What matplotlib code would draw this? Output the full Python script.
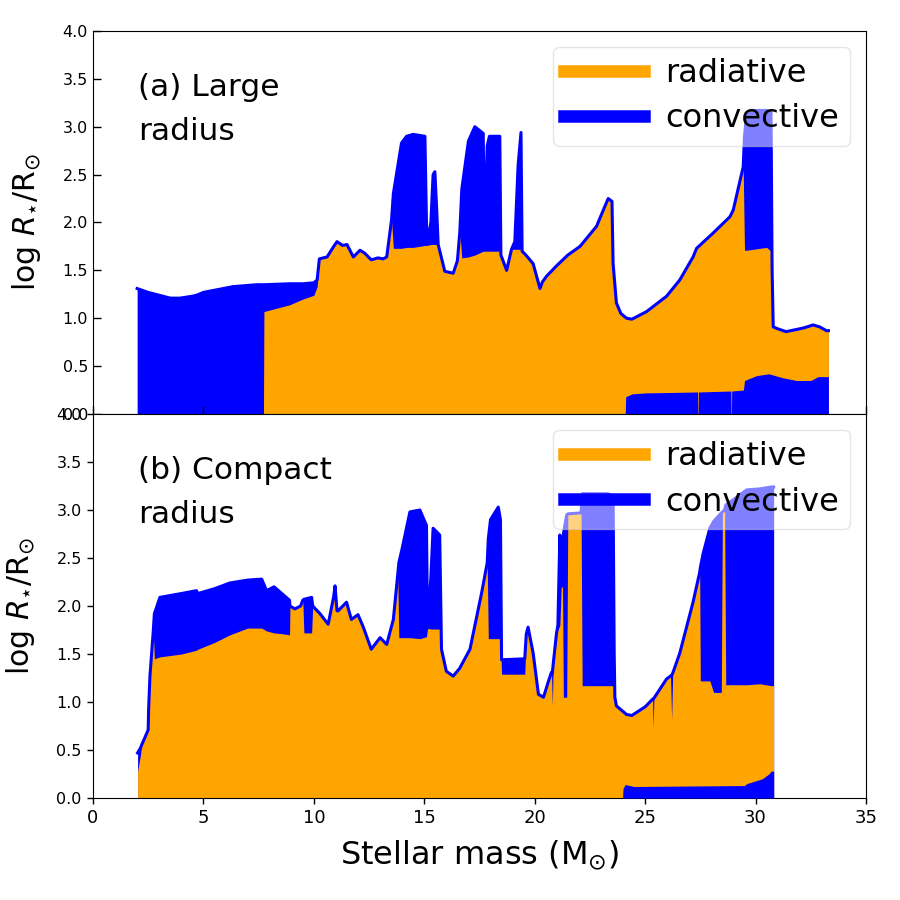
import matplotlib
matplotlib.use("Agg")
import matplotlib.pyplot as plt
from matplotlib.lines import Line2D

plt.rcParams['font.family'] = ['DejaVu Sans']
plt.rcParams['mathtext.fontset'] = 'dejavusans'

BLUE = '#0000FF'
ORANGE = '#FFA500'

# ---------------- panel (a): large radius ----------------
mass_a = [2.00, 2.5, 3.0, 3.5, 3.94, 4.5, 4.69, 5.0, 6.34, 7.41, 7.72, 7.74, 8.9, 9.5, 10.0,
          10.15, 10.25, 10.6, 10.9, 11.05, 11.3, 11.5, 11.79, 12.09, 12.3, 12.6, 12.9, 13.14, 13.3,
          13.52, 13.6, 13.97, 14.2, 14.5, 15.03, 15.1, 15.12, 15.3, 15.4, 15.48, 15.55, 15.63,
          15.93, 16.31, 16.5, 16.61, 16.7, 17.0, 17.29, 17.67, 17.72, 17.85, 17.95, 18.42, 18.47,
          18.73, 18.95, 19.1, 19.25, 19.38, 19.43, 19.6, 19.93, 20.24, 20.35, 20.54, 21.0, 21.5,
          22.05, 22.8, 23.18, 23.33, 23.5, 23.55, 23.7, 23.9, 24.16, 24.4, 25.07, 25.97, 26.57,
          27.17, 27.33, 28.08, 28.84, 28.99, 29.29, 29.44, 29.5, 29.6, 29.9, 30.5, 30.70, 30.75,
          30.8, 31.0, 31.38, 31.8, 32.2, 32.6, 32.9, 33.21, 33.3]
log_r_a = [1.31, 1.27, 1.24, 1.21, 1.21, 1.23, 1.24, 1.27, 1.33, 1.35, 1.35, 1.35, 1.36, 1.36, 1.37,
           1.40, 1.62, 1.64, 1.75, 1.80, 1.76, 1.77, 1.64, 1.71, 1.68, 1.61, 1.63, 1.62, 1.64,
           2.03, 2.30, 2.83, 2.90, 2.92, 2.90, 2.00, 1.78, 2.00, 2.50, 2.53, 2.20, 1.77,
           1.49, 1.47, 1.60, 1.90, 2.35, 2.85, 3.00, 2.93, 1.85, 2.80, 2.90, 2.90, 1.66,
           1.50, 1.72, 1.80, 2.60, 2.94, 1.70, 1.66, 1.57, 1.31, 1.38, 1.44, 1.55, 1.66,
           1.75, 1.96, 2.17, 2.25, 2.22, 1.57, 1.16, 1.05, 1.00, 0.99, 1.07, 1.23, 1.40,
           1.64, 1.73, 1.89, 2.06, 2.13, 2.43, 2.58, 2.90, 3.14, 3.17, 3.17, 3.15, 1.50,
           0.91, 0.89, 0.86, 0.88, 0.90, 0.93, 0.91, 0.87, 0.87]
env_base_a = [0, 0, 0, 0, 0, 0, 0, 0, 0, 0, 0, 1.07, 1.14, 1.20, 1.24,
              1.33, 1.62, 1.64, 1.75, 1.80, 1.76, 1.77, 1.64, 1.71, 1.68, 1.61, 1.63, 1.62, 1.64,
              2.03, 1.73, 1.73, 1.74, 1.74, 1.76, 1.76, 1.76, 1.77, 1.77, 1.77, 1.77, 1.77,
              1.49, 1.47, 1.60, 1.90, 1.63, 1.64, 1.66, 1.70, 1.70, 1.70, 1.70, 1.70, 1.66,
              1.50, 1.72, 1.72, 1.72, 1.72, 1.70, 1.66, 1.57, 1.31, 1.38, 1.44, 1.55, 1.66,
              1.75, 1.96, 2.17, 2.25, 2.22, 1.57, 1.16, 1.05, 1.00, 0.99, 1.07, 1.23, 1.40,
              1.64, 1.73, 1.89, 2.06, 2.13, 2.43, 2.58, 1.71, 1.71, 1.72, 1.74, 1.70, 1.50,
              0.91, 0.89, 0.86, 0.88, 0.90, 0.93, 0.91, 0.87, 0.87]
core_mass_a = [24.10, 24.12, 24.4, 25.0, 27.38, 27.39, 27.41, 27.42, 28.88, 28.89, 28.91, 28.92,
               29.45, 29.5, 30.04, 30.6, 31.2, 31.85, 32.5, 32.83, 33.3]
core_top_a = [0.0, 0.18, 0.21, 0.22, 0.23, 0.0, 0.0, 0.23, 0.24, 0.0, 0.0, 0.24,
              0.25, 0.35, 0.40, 0.42, 0.38, 0.35, 0.35, 0.39, 0.39]

# ---------------- panel (b): compact radius ----------------
mass_b = [2.02, 2.15, 2.2, 2.5, 2.52, 2.58, 2.73, 2.78, 2.9, 3.03, 4.0, 4.69, 4.75, 5.5, 6.2, 7.0,
          7.64, 7.86, 8.2, 8.6, 8.90, 8.92, 9.14, 9.4, 9.5, 9.55, 9.9, 9.95, 10.28, 10.65, 10.9,
          10.96, 11.05, 11.1, 11.48, 11.7, 12.0, 12.24, 12.6, 13.0, 13.3, 13.6, 13.8, 13.85, 14.0,
          14.35, 14.8, 15.1, 15.15, 15.3, 15.4, 15.7, 15.78, 16.0, 16.31, 16.6, 17.07, 17.6, 17.85,
          17.9, 18.0, 18.35, 18.45, 18.5, 19.55, 19.62, 19.7, 19.93, 20.17, 20.4, 20.6, 20.76,
          20.80, 20.84, 20.99, 21.05, 21.14, 21.2, 21.25, 21.3, 21.45, 21.50, 22.1, 22.15, 23.3,
          23.55, 23.6, 23.63, 23.7, 24.16, 24.4, 25.0, 25.34, 25.36, 25.40, 25.97, 26.15, 26.2,
          26.25, 26.57, 27.17, 27.47, 27.5, 27.63, 27.93, 28.1, 28.45, 28.5, 28.6, 28.65, 29.6,
          30.2, 30.72, 30.82]
log_r_b = [0.47, 0.52, 0.55, 0.71, 0.93, 1.27, 1.74, 1.92, 2.00, 2.09, 2.13, 2.16, 2.13, 2.18, 2.24, 2.27,
           2.28, 2.16, 2.20, 2.12, 2.06, 2.00, 1.97, 2.00, 2.06, 2.07, 2.09, 2.00, 1.92, 1.81, 2.10,
           2.21, 1.95, 1.95, 2.04, 1.86, 1.91, 1.78, 1.55, 1.67, 1.60, 1.86, 2.33, 2.45, 2.60,
           2.98, 3.00, 2.84, 1.77, 2.30, 2.81, 2.74, 1.55, 1.32, 1.27, 1.35, 1.55, 2.14, 2.45,
           2.70, 2.90, 3.03, 2.90, 1.44, 1.45, 1.71, 1.78, 1.51, 1.08, 1.05, 1.20, 1.31,
           1.30, 1.40, 1.72, 1.80, 2.74, 2.20, 2.50, 2.75, 2.95, 2.96, 2.97, 3.17, 3.17,
           3.15, 1.50, 1.05, 0.96, 0.87, 0.86, 0.95, 1.03, 1.03, 1.04, 1.24, 1.27, 1.28,
           1.30, 1.51, 2.04, 2.35, 2.40, 2.55, 2.81, 2.88, 2.97, 2.98, 3.00, 3.05, 3.21,
           3.22, 3.24, 3.24]
env_base_b = [0.28, 0.45, 0.55, 0.71, 0.93, 1.27, 1.74, 1.45, 1.46, 1.47, 1.50, 1.54, 1.55, 1.62, 1.70, 1.77,
              1.77, 1.74, 1.72, 1.71, 1.70, 2.00, 1.97, 2.00, 2.06, 1.72, 1.72, 2.00, 1.92, 1.81, 2.10,
              2.21, 1.95, 1.95, 2.04, 1.86, 1.91, 1.78, 1.55, 1.67, 1.60, 1.86, 2.33, 1.67, 1.67,
              1.67, 1.66, 1.68, 1.77, 1.76, 1.76, 1.76, 1.55, 1.32, 1.27, 1.35, 1.55, 2.14, 2.45,
              1.66, 1.66, 1.66, 1.66, 1.29, 1.29, 1.71, 1.78, 1.51, 1.08, 1.05, 1.20, 1.31,
              0.96, 1.40, 1.72, 1.75, 1.80, 2.20, 2.50, 1.05, 1.05, 2.96, 2.97, 1.17, 1.17,
              1.17, 1.17, 1.05, 0.96, 0.87, 0.86, 0.95, 1.03, 0.73, 1.04, 1.24, 1.27, 0.82,
              1.30, 1.51, 2.04, 2.35, 1.22, 1.22, 1.22, 1.10, 1.10, 2.98, 3.00, 1.18, 1.18,
              1.19, 1.17, 1.17]
core_mass_b = [23.98, 24.0, 24.1, 24.5, 29.5, 29.6, 30.3, 30.6, 30.7, 30.82]
core_top_b = [0.0, 0.10, 0.14, 0.12, 0.13, 0.15, 0.20, 0.25, 0.28, 0.28]

yticks = [0.0, 0.5, 1.0, 1.5, 2.0, 2.5, 3.0, 3.5, 4.0]
xticks = [0, 5, 10, 15, 20, 25, 30, 35]
labels = ['radiative', 'convective']
panel_titles = ['(a) Large\nradius', '(b) Compact\nradius']

fig = plt.figure(figsize=(9, 9), dpi=100)
ax_a = fig.add_axes([0.1033, 0.54, 0.8589, 0.4256])
ax_b = fig.add_axes([0.1033, 0.1133, 0.8589, 0.4267])

panels = [
    (ax_a, mass_a, log_r_a, env_base_a, core_mass_a, core_top_a, panel_titles[0], 'in', 6),
    (ax_b, mass_b, log_r_b, env_base_b, core_mass_b, core_top_b, panel_titles[1], 'out', 4.5),
]

for ax, m, r, e, cm, ct, title, tdir, tlen in panels:
    ax.fill_between(m, 0, r, color=BLUE, lw=0, zorder=1)
    ax.fill_between(m, 0, e, color=ORANGE, lw=0, zorder=2)
    ax.fill_between(cm, 0, ct, color=BLUE, lw=0, zorder=3)
    ax.plot(m, r, color=BLUE, lw=2.2, zorder=4)
    ax.set_xlim(0, 35)
    ax.set_ylim(0, 4.0)
    ax.set_yticks(yticks)
    ax.set_xticks(xticks)
    ax.tick_params(axis='both', direction=tdir, length=tlen, width=1)
    ax.tick_params(axis='y', labelsize=11.5)
    ax.tick_params(axis='x', labelsize=13)
    ax.set_ylabel(r'log $R_{\star}$/R$_{\odot}$', fontsize=21.5, labelpad=14)
    ax.text(2.05, 3.56, title, fontsize=22.5, va='top', ha='left', linespacing=1.65, zorder=6)
    handles = [Line2D([], [], color=ORANGE, lw=9), Line2D([], [], color=BLUE, lw=9)]
    leg = ax.legend(handles, labels, loc='upper right', fontsize=23, framealpha=0.5,
                    handlelength=2.5, handletextpad=0.65, labelspacing=0.45, borderpad=0.35,
                    borderaxespad=0.5)
    leg.set_zorder(10)

ax_a.tick_params(axis='x', labelbottom=False)
ax_b.set_xlabel(r'Stellar mass (M$_{\odot}$)', fontsize=23, labelpad=8)

fig.savefig('out.png', dpi=100)
